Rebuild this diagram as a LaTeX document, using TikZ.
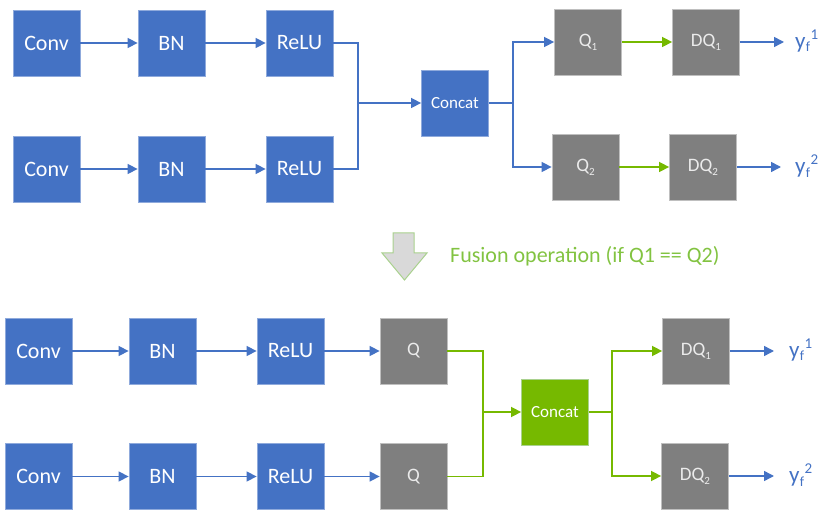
\documentclass[tikz,border=0pt]{standalone}
\usepackage{fontspec}
\setmainfont{Carlito}
\usetikzlibrary{arrows.meta}
\definecolor{bblue}{HTML}{4472C4}
\definecolor{bblueedge}{HTML}{8FAADC}
\definecolor{ggray}{HTML}{7F7F7F}
\definecolor{ggrayedge}{HTML}{BFBFBF}
\definecolor{ngreen}{HTML}{76B900}
\definecolor{ngreenedge}{HTML}{A9D18E}
\definecolor{ftext}{HTML}{82C341}
\tikzset{
  box/.style={minimum width=67pt, minimum height=66pt, inner sep=0pt, line width=0.8pt, font=\fontsize{22}{24}\selectfont, text=white},
  bluebox/.style={box, fill=bblue, draw=bblueedge},
  graybox/.style={box, fill=ggray, draw=ggrayedge, text=white!92!black, font=\fontsize{19}{21}\selectfont},
  greenbox/.style={box, fill=ngreen, draw=ngreenedge, font=\fontsize{17}{19}\selectfont},
  smallblue/.style={bluebox, font=\fontsize{17}{19}\selectfont},
  bl/.style={draw=bblue, line width=1.5pt},
  gl/.style={draw=ngreen, line width=1.5pt},
  tip/.style={-{Triangle[length=10pt,width=10pt]}},
  ylab/.style={text=bblue, font=\fontsize{23}{25}\selectfont, anchor=west, inner sep=0pt}
}
\newcommand{\sq}[1]{\raisebox{-0.2em}{\fontsize{11}{11}\selectfont #1}}
\newcommand{\yf}[1]{y\hspace{0.3pt}\raisebox{-3.5pt}{\fontsize{14}{14}\selectfont f}\hspace{0.5pt}\raisebox{9pt}{\fontsize{15}{15}\selectfont #1}}
\begin{document}
\begin{tikzpicture}[x=1pt,y=-1pt]
\useasboundingbox (0,0) rectangle (822,510);
% ---------------- top ----------------
\node[bluebox] (conv1) at (46.5,43) {Conv};
\node[bluebox] (bn1) at (171.5,43) {BN};
\node[bluebox] (relu1) at (299.5,43) {ReLU};
\node[bluebox] (conv2) at (46.5,169) {Conv};
\node[bluebox] (bn2) at (171.5,169) {BN};
\node[bluebox] (relu2) at (299.5,169) {ReLU};
\node[smallblue] (concat1) at (455,103) {Concat};
\node[graybox] (q1) at (588,42) {Q\sq{1}};
\node[graybox] (dq1) at (706,42) {DQ\sq{1}};
\node[graybox] (q2) at (585.5,167) {Q\sq{2}};
\node[graybox] (dq2) at (703,167) {DQ\sq{2}};
\coordinate (j1) at (358,103);
\coordinate (s1) at (513,103);
\node[ylab] (y1) at (795,41) {\yf{1}};
\node[ylab] (y2) at (795,166) {\yf{2}};
\coordinate (e1) at (784,42);
\coordinate (e2) at (781,167);
\draw[bl,tip] (conv1) -- (bn1);
\draw[bl,tip] (bn1) -- (relu1);
\draw[bl,tip] (conv2) -- (bn2);
\draw[bl,tip] (bn2) -- (relu2);
\draw[bl] (relu1.east) -| (j1);
\draw[bl] (relu2.east) -| (j1);
\draw[bl,tip] (j1) -- (concat1.west);
\draw[bl] (concat1.east) -- (s1);
\draw[bl,tip] (s1) |- (q1.west);
\draw[bl,tip] (s1) |- (q2.west);
\draw[gl,tip] (q1) -- (dq1);
\draw[gl,tip] (q2) -- (dq2);
\draw[bl,tip] (dq1.east) -- (e1);
\draw[bl,tip] (dq2.east) -- (e2);
% ---------------- fusion arrow ----------------
\draw[fill=black!15, draw=ngreenedge, line width=1pt] (393,233) -- (414,233) -- (414,253) -- (427,253) -- (404.5,280) -- (382,253) -- (393,253) -- cycle;
\node[text=ftext, font=\fontsize{22}{24}\selectfont, anchor=west, inner sep=0pt] (fus) at (450,256) {Fusion operation (if Q1 == Q2)};
% ---------------- bottom ----------------
\node[bluebox] (conv3) at (38.5,351) {Conv};
\node[bluebox] (bn3) at (162.5,351) {BN};
\node[bluebox] (relu3) at (290.5,351) {ReLU};
\node[graybox] (qa) at (413.5,351) {Q};
\node[bluebox] (conv4) at (38.5,476.5) {Conv};
\node[bluebox] (bn4) at (162.5,476.5) {BN};
\node[bluebox] (relu4) at (290.5,476.5) {ReLU};
\node[graybox] (qb) at (413.5,476.5) {Q};
\node[greenbox] (concat2) at (555,412) {Concat};
\node[graybox] (dqa) at (696,351) {DQ\sq{1}};
\node[graybox] (dqb) at (695,476) {DQ\sq{2}};
\coordinate (j2) at (483,412);
\coordinate (s2) at (612,412);
\coordinate (e3) at (774,351);
\coordinate (e4) at (774,476);
\node[ylab] (y3) at (789,350) {\yf{1}};
\node[ylab] (y4) at (789,475) {\yf{2}};
\draw[bl,tip] (conv3) -- (bn3);
\draw[bl,tip] (bn3) -- (relu3);
\draw[bl,tip] (relu3) -- (qa);
\draw[bl,tip] (conv4) -- (bn4);
\draw[bl,tip] (bn4) -- (relu4);
\draw[bl,tip] (relu4) -- (qb);
\draw[gl] (qa.east) -| (j2);
\draw[gl] (qb.east) -| (j2);
\draw[gl,tip] (j2) -- (concat2.west);
\draw[gl] (concat2.east) -- (s2);
\draw[gl,tip] (s2) |- (dqa.west);
\draw[gl,tip] (s2) |- (dqb.west);
\draw[bl,tip] (dqa.east) -- (e3);
\draw[bl,tip] (dqb.east) -- (e4);
\end{tikzpicture}
\end{document}
